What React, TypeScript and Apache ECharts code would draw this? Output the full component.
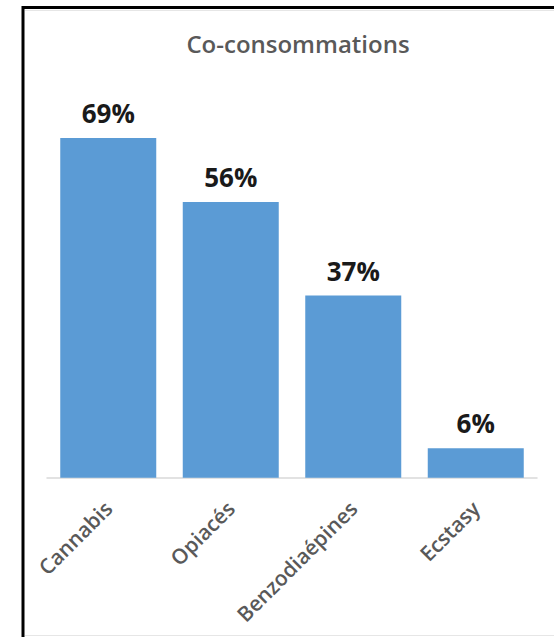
import React, { useEffect, useRef } from "react";
import * as echarts from "echarts";

const categories = ["Cannabis", "Opiacés", "Benzodiaépines", "Ecstasy"];
const values = [69, 56, 37, 6];
const titleText = "Co-consommations";

export default function App() {
  const ref = useRef<HTMLDivElement>(null);
  useEffect(() => {
    if (!ref.current) return;
    const chart = echarts.init(ref.current, undefined, { renderer: "svg" });
    chart.setOption({
      animation: false,
      backgroundColor: "#ffffff",
      title: {
        text: titleText,
        left: 293,
        top: 26,
        textAlign: "center",
        textStyle: {
          fontFamily: "Open Sans",
          fontSize: 24,
          fontWeight: 600,
          color: "#595959",
        },
      },
      grid: { left: 47, right: 17, top: 133.1, bottom: 159.3 },
      xAxis: {
        type: "category",
        data: categories,
        axisLine: { show: true, lineStyle: { color: "#d9d9d9", width: 1.5 } },
        axisTick: { show: false },
        axisLabel: {
          interval: 0,
          rotate: 45,
          margin: 27,
          fontFamily: "Open Sans",
          fontSize: 21,
          fontWeight: 600,
          color: "#595959",
        },
      },
      yAxis: {
        type: "value",
        min: 0,
        max: 70,
        show: false,
        splitLine: { show: false },
      },
      series: [
        {
          type: "bar",
          data: values,
          barWidth: 96,
          itemStyle: { color: "#5B9BD5" },
          label: {
            show: true,
            position: "top",
            distance: 12,
            formatter: "{c}%",
            fontFamily: "Open Sans",
            fontSize: 26,
            fontWeight: 700,
            color: "#1a1a1a",
          },
        },
      ],
      graphic: [
        {
          type: "line",
          shape: { x1: 23, y1: 7.5, x2: 560, y2: 7.5 },
          style: { stroke: "#000000", lineWidth: 3 },
          silent: true,
        },
        {
          type: "line",
          shape: { x1: 23, y1: 6, x2: 23, y2: 640 },
          style: { stroke: "#000000", lineWidth: 3 },
          silent: true,
        },
        {
          type: "line",
          shape: { x1: 25, y1: 10.5, x2: 560, y2: 10.5 },
          style: { stroke: "#e6e6e6", lineWidth: 1 },
          silent: true,
        },
        {
          type: "line",
          shape: { x1: 25, y1: 635.5, x2: 560, y2: 635.5 },
          style: { stroke: "#e6e6e6", lineWidth: 1 },
          silent: true,
        },
      ],
    });
    return () => chart.dispose();
  }, []);
  return (
    <div
      ref={ref}
      style={{
        position: "fixed",
        left: 0,
        top: 0,
        width: 554,
        height: 637,
        overflow: "hidden",
      }}
    />
  );
}
